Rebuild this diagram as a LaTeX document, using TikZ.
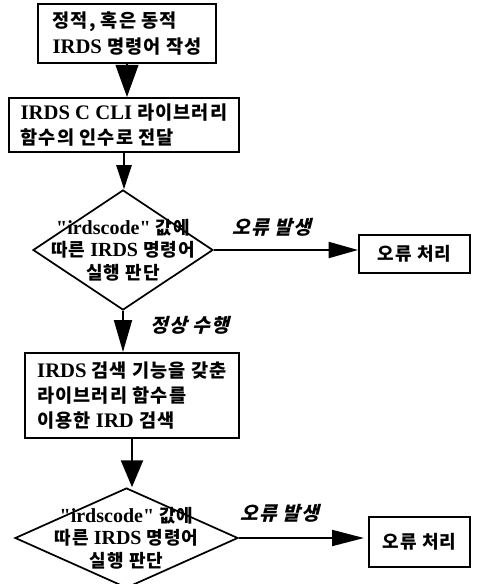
\documentclass[tikz,border=0pt]{standalone}
\usepackage{fontspec}
\setmainfont{Liberation Serif}[Ligatures=TeXOff]
\newfontfamily\kr{Noto Sans CJK KR}[Scale=0.9,LetterSpace=6]
\newfontfamily\krsl{Noto Sans CJK KR}[Scale=0.9,LetterSpace=6,FakeSlant=0.25]
\usetikzlibrary{shapes.geometric,arrows.meta}
\tikzset{
  box/.style={draw, line width=1.5pt, align=left, inner sep=0pt,
    font=\fontsize{15.5pt}{18.8pt}\selectfont\bfseries},
  dia/.style={draw, diamond, line width=1.3pt, inner sep=0pt},
  dtext/.style={align=center, inner sep=0pt,
    font=\fontsize{15pt}{17pt}\selectfont\bfseries},
  lbl/.style={inner sep=0pt, font=\fontsize{16pt}{16pt}\selectfont\bfseries\krsl},
  flow/.style n args={2}{line width=1.4pt, -{Triangle[length=#1,width=#2]}}
}
\begin{document}
\begin{tikzpicture}[x=0.75pt,y=-0.75pt]
\useasboundingbox (0,0) rectangle (479,584);
% boxes
\node[box, minimum width=133.5pt, minimum height=44.25pt] (b1) at (127,33.5)
  {{\kr 정적, 혹은 동적}\\IRDS {\kr 명령어 작성}};
\node[box, minimum width=172.5pt, minimum height=40.5pt] (b2) at (124,125)
  {IRDS C CLI {\kr 라이브러리}\\{\kr 함수의 인수로 전달}};
\node[dia, minimum width=135pt, minimum height=90pt,
  label={[dtext]center:{"irdscode" {\kr 값에}\\{\kr 따른} IRDS {\kr 명령어}\\{\kr 실행 판단}}}] (d1) at (123,250) {};
\node[box, align=center, minimum width=83.25pt, minimum height=27.75pt,
  font=\fontsize{15pt}{16pt}\selectfont\bfseries\kr] (e1) at (414.5,254) {오류 처리};
\node[box, minimum width=160.5pt, minimum height=63.75pt] (b3) at (132,395.5)
  {IRDS {\kr 검색 기능을 갖춘}\\{\kr 라이브러리 함수를}\\{\kr 이용한} IRD {\kr 검색}};
\node[dia, minimum width=167.25pt, minimum height=75pt,
  label={[dtext]center:{"irdscode" {\kr 값에}\\{\kr 따른} IRDS {\kr 명령어}\\{\kr 실행 판단}}}] (d2) at (126.5,538) {};
\node[box, align=center, minimum width=75.75pt, minimum height=37.5pt,
  font=\fontsize{15pt}{16pt}\selectfont\bfseries\kr] (e2) at (419.5,542) {오류 처리};
% labels
\node[lbl] (l1) at (272,227) {오류 발생};
\node[lbl] (l2) at (190,325) {정상 수행};
\node[lbl] (l3) at (280,513) {오류 발생};
% connectors
\draw[flow={24pt}{17pt}] (b1.south) -- (b1.south |- b2.north);
\draw[flow={18pt}{11.5pt}] (b2.south) -- (b2.south |- d1.north);
\draw[flow={24pt}{13.5pt}] (d1.south) -- (d1.south |- b3.north);
\draw[flow={20pt}{16.5pt}] (b3.south) -- (b3.south |- d2.north);
\draw[flow={22pt}{12pt}] (d1.east) -- (d1.east -| e1.west);
\draw[flow={24pt}{12pt}] (d2.east) -- ([xshift=-3pt]d2.east -| e2.west);
\end{tikzpicture}
\end{document}
